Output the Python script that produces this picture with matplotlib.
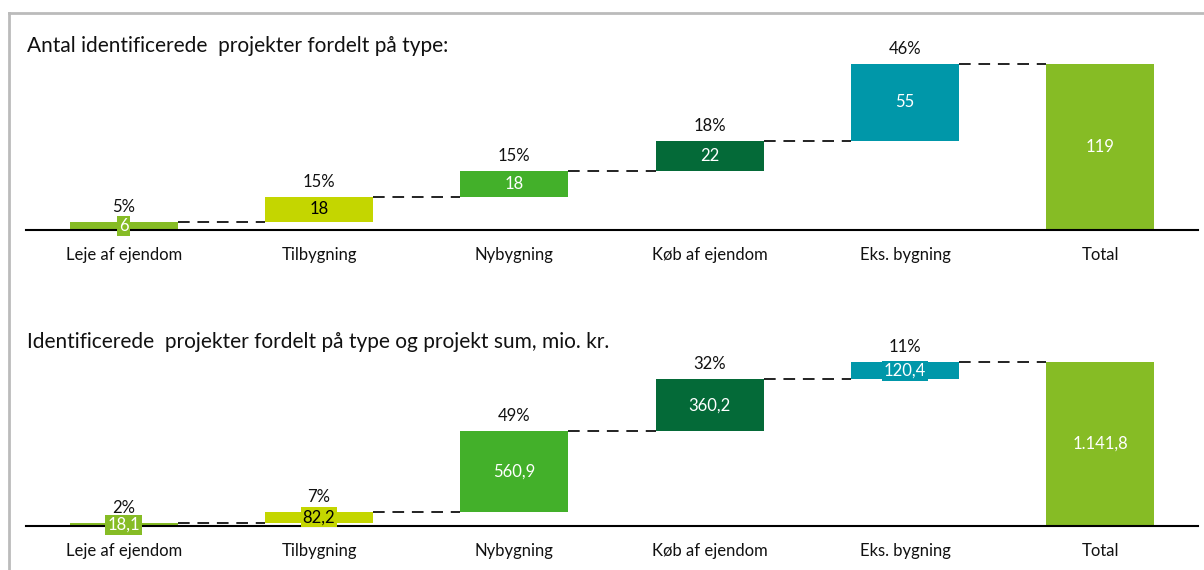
import matplotlib.pyplot as plt
from matplotlib.lines import Line2D

plt.rcParams['font.family'] = ['Lato', 'DejaVu Sans']

categories = ['Leje af ejendom', 'Tilbygning', 'Nybygning', 'Køb af ejendom', 'Eks. bygning', 'Total']
colors = ['#86BC25', '#C4D600', '#43B02A', '#046A38', '#0097A9', '#86BC25']
text_colors = ['white', 'black', 'white', 'white', 'white', 'white']

count_values = [6, 18, 18, 22, 55]
count_pcts = ['5%', '15%', '15%', '18%', '46%']
count_title = 'Antal identificerede  projekter fordelt på type:'

sum_values = [18.1, 82.2, 560.9, 360.2, 120.4]
sum_pcts = ['2%', '7%', '49%', '32%', '11%']
sum_title = 'Identificerede  projekter fordelt på type og projekt sum, mio. kr.'

W, H = 1204, 570


def fmt_int(v):
    return f'{v:.0f}'


def fmt_dk(v):
    s = f'{v:,.1f}'
    return s.replace(',', 'X').replace('.', ',').replace('X', '.')


def waterfall(ax, values, pcts, fmt, ymax):
    total = sum(values)
    vals = values + [total]
    bottoms = []
    run = 0
    for v in values:
        bottoms.append(run)
        run += v
    bottoms.append(0)
    x = list(range(len(vals)))
    width = 0.553
    ax.bar(x, vals, bottom=bottoms, width=width, color=colors, zorder=2)

    # connectors
    for i in range(len(vals) - 1):
        level = bottoms[i] + vals[i]
        ax.plot([x[i] + width / 2, x[i + 1] - width / 2], [level, level],
                color='#222222', lw=1.4, dashes=(6, 4), zorder=1)

    # value labels
    for i, v in enumerate(vals):
        ax.text(x[i], bottoms[i] + v / 2, fmt(v), ha='center', va='center',
                fontsize=12, color=text_colors[i], zorder=4,
                bbox=dict(boxstyle='square,pad=0.12', fc=colors[i], ec='none'))

    # percent labels
    for i, p in enumerate(pcts):
        ax.annotate(p, (x[i], bottoms[i] + vals[i]), xytext=(0, 5),
                    textcoords='offset points', ha='center', va='bottom',
                    fontsize=12, color='#111111')

    ax.set_xlim(-0.5, len(vals) - 0.5)
    ax.set_ylim(0, ymax)
    ax.set_xticks(x)
    ax.set_xticklabels(categories, fontsize=12, color='#111111')
    ax.tick_params(axis='x', length=0, pad=12)
    ax.set_yticks([])
    for s in ['top', 'left', 'right']:
        ax.spines[s].set_visible(False)
    ax.spines['bottom'].set_linewidth(1.5)
    ax.spines['bottom'].set_color('black')
    ax.spines['bottom'].set_zorder(3)


fig = plt.figure(figsize=(W / 100, H / 100), dpi=100)

ax1 = fig.add_axes([26 / W, (H - 230) / H, 1172 / W, 200 / H])
waterfall(ax1, count_values, count_pcts, fmt_int, sum(count_values) * 200 / 166)

ax2 = fig.add_axes([26 / W, (H - 526) / H, 1172 / W, 176 / H])
waterfall(ax2, sum_values, sum_pcts, fmt_dk, sum(sum_values) * 176 / 164)

fig.text(27 / W, 1 - 46 / H, count_title, fontsize=15, va='center', ha='left', color='#111111')
fig.text(27 / W, 1 - 342 / H, sum_title, fontsize=15, va='center', ha='left', color='#111111')

# frame
fig.add_artist(Line2D([9 / W, 1], [1 - 13 / H, 1 - 13 / H], color='#BBBBBB', lw=2))
fig.add_artist(Line2D([9 / W, 9 / W], [0, 1 - 13 / H], color='#BBBBBB', lw=2))

fig.savefig('out.png', dpi=100, facecolor='white')
